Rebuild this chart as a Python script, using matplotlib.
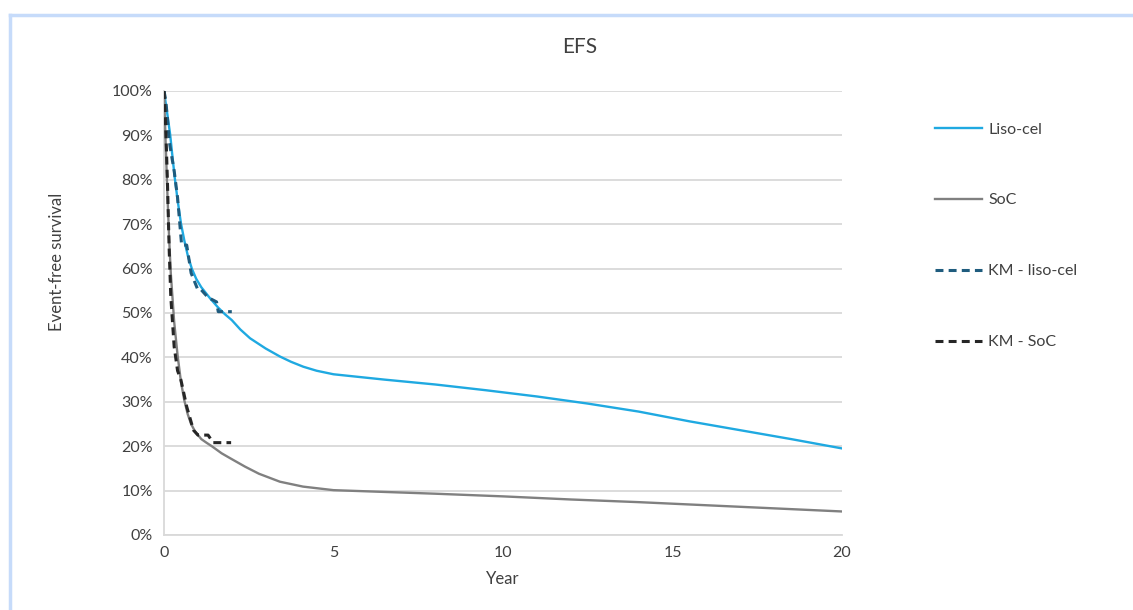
import matplotlib.pyplot as plt
from matplotlib.lines import Line2D

plt.rcParams['font.family'] = ['Lato', 'DejaVu Sans']

# Modelled curves (years, survival %)
liso_years = [0, 0.05, 0.1, 0.18, 0.25, 0.32, 0.4, 0.5, 0.6, 0.7, 0.82, 0.95, 1.1, 1.36, 1.6, 1.8, 2.0,
              2.25, 2.54, 3.0, 3.42, 3.75, 4.11, 4.5, 5.0,
              6.5, 8, 9.5, 11, 12.5, 14, 15.5, 17, 18.5, 20]
liso_surv = [100, 97.3, 94.7, 90.3, 85.2, 80.3, 75.5, 70.2, 66.3, 63.0, 60.0, 57.7, 55.8, 53.3, 51.2, 49.7, 48.4,
             46.3, 44.3, 42.0, 40.2, 39.0, 37.9, 37.0, 36.2,
             35.0, 33.9, 32.6, 31.2, 29.6, 27.8, 25.6, 23.6, 21.6, 19.5]

soc_years = [0, 0.05, 0.1, 0.15, 0.2, 0.3, 0.4, 0.5, 0.6, 0.7, 0.8, 0.91, 1.1, 1.25, 1.41, 1.7, 1.95,
             2.39, 2.8, 3.42, 4.1, 5.0,
             6.5, 8, 10, 12, 14, 16, 18, 20]
soc_surv = [100, 88, 77, 67, 59, 48, 40.5, 34.5, 30.3, 27.2, 25.0, 23.4, 21.6, 20.8, 20.0, 18.4, 17.3,
            15.4, 13.8, 12.0, 10.9, 10.1,
            9.7, 9.3, 8.7, 8.0, 7.4, 6.7, 6.0, 5.3]

# Kaplan-Meier data
km_liso_years = [0, 0.05, 0.1, 0.15, 0.2, 0.3, 0.4, 0.52, 0.67, 0.8, 1.0, 1.1, 1.3, 1.55, 1.6, 2.0]
km_liso_surv = [100, 98, 94, 89, 86.5, 82, 76, 65.3, 65.3, 59, 55.2, 55.2, 53.5, 52.5, 50.3, 50.3]

km_soc_years = [0, 0.05, 0.1, 0.15, 0.2, 0.3, 0.4, 0.5, 0.67, 0.87, 1.0, 1.3, 1.45, 1.98]
km_soc_surv = [100, 92, 80, 65, 53.7, 42.4, 37, 34.9, 28.9, 23.6, 22.5, 22.5, 20.8, 20.8]

labels = ['Liso-cel', 'SoC', 'KM - liso-cel', 'KM - SoC']
colors = ['#1FA9E1', '#808080', '#1F5C7E', '#262626']
dash = (0, (2.6, 1.7))

fig = plt.figure(figsize=(11.33, 6.1), dpi=100)
ax = fig.add_axes([164 / 1133, 1 - 535 / 610, 678 / 1133, 444 / 610])

ax.plot(liso_years, liso_surv, color=colors[0], lw=1.7, zorder=3)
ax.plot(soc_years, soc_surv, color=colors[1], lw=1.7, zorder=3)
ax.plot(km_liso_years, km_liso_surv, color=colors[2], lw=2.2, ls=dash, zorder=4)
ax.plot(km_soc_years, km_soc_surv, color=colors[3], lw=2.2, ls=dash, zorder=4)

ax.set_xlim(0, 20)
ax.set_ylim(0, 100)
ax.set_xticks([0, 5, 10, 15, 20])
ax.set_yticks(range(0, 101, 10))
ax.set_yticklabels([f'{v}%' for v in range(0, 101, 10)])
ax.tick_params(length=0, labelsize=11.5, colors='#404040', pad=8)
ax.grid(axis='y', color='#D9D9D9', lw=1.3)
ax.set_axisbelow(True)
for s in ['top', 'right']:
    ax.spines[s].set_visible(False)
for s in ['left', 'bottom']:
    ax.spines[s].set_color('#D9D9D9')
    ax.spines[s].set_linewidth(1.3)

ax.set_xlabel('Year', fontsize=12, color='#404040', labelpad=8)
fig.text(57 / 1133, 1 - 262 / 610, 'Event-free survival', rotation=90, ha='center', va='center',
         fontsize=12, color='#404040')
fig.text(580 / 1133, 1 - 47 / 610, 'EFS', ha='center', va='center', fontsize=15, color='#404040')

# legend
handles = [
    Line2D([], [], color=colors[0], lw=1.7),
    Line2D([], [], color=colors[1], lw=1.7),
    Line2D([], [], color=colors[2], lw=2.2, ls=dash),
    Line2D([], [], color=colors[3], lw=2.2, ls=dash),
]
fig.legend(handles, labels, loc='upper left', bbox_to_anchor=(921 / 1133, 1 - 108 / 610), frameon=False,
           fontsize=11.5, labelspacing=3.55, handlelength=2.95, handletextpad=0.35, labelcolor='#404040')

# outer frame (chart area border)
fig.add_artist(Line2D([10.5 / 1133, 1], [1 - 14.5 / 610, 1 - 14.5 / 610], color='#C6DBFA', lw=2.5))
fig.add_artist(Line2D([10.5 / 1133, 10.5 / 1133], [0, 1 - 14.5 / 610], color='#C6DBFA', lw=2.5))

fig.savefig('out.png', dpi=100)
